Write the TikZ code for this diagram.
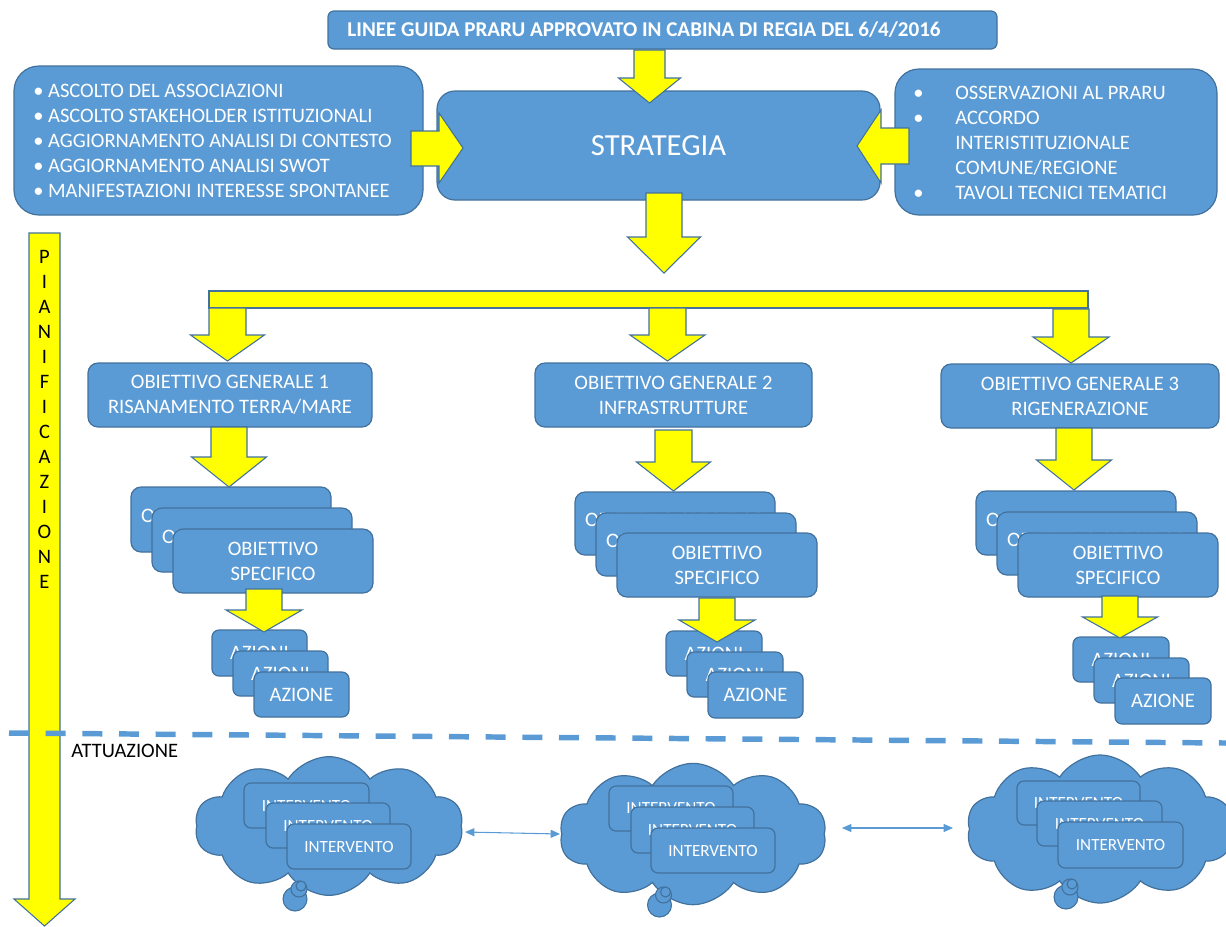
\documentclass[tikz,border=0pt]{standalone}
\usepackage{fontspec}
\setmainfont{Carlito}
\usetikzlibrary{shapes.symbols,arrows.meta}
\definecolor{boxblue}{HTML}{5B9BD5}
\definecolor{edgeblue}{HTML}{41719C}
\definecolor{yel}{HTML}{FFFF00}
\tikzset{
  bluebox/.style={draw=edgeblue, fill=boxblue, line width=0.9pt, text=white, inner sep=0pt, align=center, font=\fontsize{15.4}{18.75}\selectfont},
  smallbox/.style={bluebox, font=\fontsize{12.8}{15}\selectfont},
  yarrow/.style={draw=edgeblue, fill=yel, line width=0.8pt, line join=miter},
  cloudshape/.style={cloud, cloud puffs=10, cloud puff arc=115, draw=edgeblue, fill=boxblue, line width=0.9pt, inner sep=0pt},
  bubble/.style={draw=edgeblue, fill=boxblue, line width=0.8pt},
  linkarrow/.style={draw=boxblue, line width=0.8pt, {Triangle[length=7pt,width=6pt]}-{Triangle[length=7pt,width=6pt]}},
  phase/.style={draw=boxblue, line width=4.1pt, dash pattern=on 15pt off 12.5pt},
  plaintext/.style={inner sep=0pt, font=\fontsize{15.4}{18.75}\selectfont},
}
\newcommand{\backtext}[1]{\raisebox{2.5pt}[\height][\depth]{#1}}
% [options] name x1 y1 x2 y2 radius text
\newcommand{\bx}[8][]{%
  \pgfmathsetmacro\bw{(#5-#3)*0.75}%
  \pgfmathsetmacro\bh{(#6-#4)*0.75}%
  \pgfmathsetmacro\bcx{(#3+#5)/2}%
  \pgfmathsetmacro\bcy{(#4+#6)/2}%
  \pgfmathsetmacro\br{#7*0.75}%
  \node[bluebox, rounded corners=\br pt, minimum width=\bw pt, minimum height=\bh pt, #1] (#2) at (\bcx,\bcy) {#8};}
% down block arrow: cx top base tip shafthalf headhalf
\newcommand{\yarrowdown}[6]{%
  \draw[yarrow] (#1-#5,#2) -- (#1+#5,#2) -- (#1+#5,#3) -- (#1+#6,#3) -- (#1,#4) -- (#1-#6,#3) -- (#1-#5,#3) -- cycle;}
\begin{document}
\begin{tikzpicture}[x=0.75pt,y=-0.75pt]
\useasboundingbox (0,0) rectangle (1226,926);
\clip (0,0) rectangle (1226,926);

% ---- top part
\bx{title}{328}{11}{997}{49}{6}{}
\node[plaintext, text=white, font=\fontsize{15.8}{19}\selectfont\bfseries] (titletext) at (644,30) {LINEE GUIDA PRARU APPROVATO IN CABINA DI REGIA DEL 6/4/2016};
\bx{lbox}{14}{66}{423}{215}{25}{}
\node[plaintext, text=white, anchor=west, align=left] (ltext) at (33,141) {• ASCOLTO DEL ASSOCIAZIONI\\• ASCOLTO STAKEHOLDER ISTITUZIONALI\\• AGGIORNAMENTO ANALISI DI CONTESTO\\• AGGIORNAMENTO ANALISI SWOT\\• MANIFESTAZIONI INTERESSE SPONTANEE};
\bx[font=\fontsize{23}{28}\selectfont]{strat}{437}{91}{880}{200}{18}{STRATEGIA}
\bx{rbox}{895}{69}{1217}{215}{24}{}
\node[plaintext, text=white, anchor=west, align=left] (rtext) at (913,143) {\makebox[31.5pt][l]{•}OSSERVAZIONI AL PRARU\\\makebox[31.5pt][l]{•}ACCORDO\\\hspace*{31.5pt}INTERISTITUZIONALE\\\hspace*{31.5pt}COMUNE/REGIONE\\\makebox[31.5pt][l]{•}TAVOLI TECNICI TEMATICI};

% ---- obiettivi generali
\bx{og1}{88}{363}{372}{427}{10}{OBIETTIVO GENERALE 1\\RISANAMENTO TERRA/MARE}
\bx{og2}{535}{363}{812}{427}{10}{OBIETTIVO GENERALE 2\\INFRASTRUTTURE}
\bx{og3}{941}{364}{1219}{428}{10}{OBIETTIVO GENERALE 3\\RIGENERAZIONE}

% ---- obiettivi specifici
\bx{os1a}{131}{487}{331}{552}{10}{\backtext{OBIETTIVO SPECIFICO}}
\bx{os1b}{152}{508}{352}{572}{10}{\backtext{OBIETTIVO SPECIFICO}}
\bx{os1c}{173}{529}{373}{593}{10}{OBIETTIVO\\SPECIFICO}
\bx{os2a}{575}{492}{775}{555}{10}{\backtext{OBIETTIVO SPECIFICO}}
\bx{os2b}{596}{513}{796}{576}{10}{\backtext{OBIETTIVO SPECIFICO}}
\bx{os2c}{617}{533}{817}{597}{10}{OBIETTIVO\\SPECIFICO}
\bx{os3a}{976}{491}{1176}{555}{10}{\backtext{OBIETTIVO SPECIFICO}}
\bx{os3b}{997}{512}{1197}{575}{10}{\backtext{OBIETTIVO SPECIFICO}}
\bx{os3c}{1018}{533}{1218}{597}{10}{OBIETTIVO\\SPECIFICO}

% ---- azioni
\bx{az1a}{212}{630}{307}{676}{7}{AZIONI}
\bx{az1b}{233}{651}{328}{696}{7}{AZIONI}
\bx{az1c}{254}{672}{349}{717}{7}{AZIONE}
\bx{az2a}{666}{631}{762}{676}{7}{AZIONI}
\bx{az2b}{687}{652}{783}{697}{7}{AZIONI}
\bx{az2c}{708}{672}{803}{718}{7}{AZIONE}
\bx{az3a}{1073}{637}{1169}{682}{7}{AZIONI}
\bx{az3b}{1094}{658}{1189}{703}{7}{AZIONI}
\bx{az3c}{1115}{678}{1211}{724}{7}{AZIONE}

% ---- yellow block arrows
\yarrowdown{649.5}{50}{78}{103}{15.5}{31}
\draw[yarrow] (411,131) -- (439,131) -- (439,113) -- (463,148) -- (439,183) -- (439,166) -- (411,166) -- cycle;
\draw[yarrow] (909,128) -- (881,128) -- (881,110) -- (857,146) -- (881,183) -- (881,164) -- (909,164) -- cycle;
\yarrowdown{664}{193}{237}{273}{18}{36.5}
\draw[yarrow] (209,291) rectangle (1088,308);
\yarrowdown{227.5}{308}{335}{361}{18.5}{37}
\yarrowdown{667.5}{308}{335}{361}{18.5}{37.5}
\yarrowdown{1071}{309}{337}{363}{18}{38}
\yarrowdown{229}{427}{457}{487}{18}{37.5}
\yarrowdown{673.5}{430}{462}{491}{18.5}{37}
\yarrowdown{1074}{428}{460}{490}{18}{37.5}
\yarrowdown{264}{589}{610}{632}{18}{38}
\yarrowdown{717}{598}{620}{642}{18}{38}
\yarrowdown{1120}{596}{617}{638}{18}{37.5}

% ---- pianificazione arrow
\yarrowdown{44.5}{233}{899}{926}{15.5}{30.5}
\node[plaintext, align=center] (pian) at (44.5,419.5) {P\\I\\A\\N\\I\\F\\I\\C\\A\\Z\\I\\O\\N\\E};

% ---- phase separator
\coordinate (sepL) at (9,733);
\coordinate (sepR) at (1226,743);
\draw[phase] (sepL) -- (sepR);
\node[plaintext, anchor=west] (att) at (71,751) {ATTUAZIONE};

% ---- clouds
\node[cloudshape, minimum width=201pt, minimum height=104pt] (cl1) at (329,826) {};
\node[cloudshape, minimum width=200pt, minimum height=106pt] (cl2) at (693,834) {};
\node[cloudshape, minimum width=200pt, minimum height=111pt] (cl3) at (1100,829) {};
\foreach \cx/\cy in {295/899, 659.5/905, 1066/897}{
  \draw[bubble] (\cx,\cy) circle (12);
  \draw[bubble] (\cx+4,\cy-10) circle (8);
  \draw[bubble] (\cx+6,\cy-13) circle (5);
}
\bx[smallbox]{in1a}{244}{783}{369}{828}{7}{INTERVENTO}
\bx[smallbox]{in1b}{266}{803}{390}{848}{7}{INTERVENTO}
\bx[smallbox]{in1c}{287}{824}{411}{869}{7}{INTERVENTO}
\bx[smallbox]{in2a}{609}{786}{733}{831}{7}{INTERVENTO}
\bx[smallbox]{in2b}{631}{807}{754}{853}{7}{INTERVENTO}
\bx[smallbox]{in2c}{651}{828}{775}{873}{7}{INTERVENTO}
\bx[smallbox]{in3a}{1017}{781}{1140}{825}{7}{INTERVENTO}
\bx[smallbox]{in3b}{1037}{801}{1162}{846}{7}{INTERVENTO}
\bx[smallbox]{in3c}{1058}{822}{1183}{868}{7}{INTERVENTO}

\coordinate (l1a) at (465,832);
\coordinate (l1b) at (560,834);
\coordinate (l2a) at (842,828);
\coordinate (l2b) at (953,828);
\draw[linkarrow] (l1a) -- (l1b);
\draw[linkarrow] (l2a) -- (l2b);
\end{tikzpicture}
\end{document}
